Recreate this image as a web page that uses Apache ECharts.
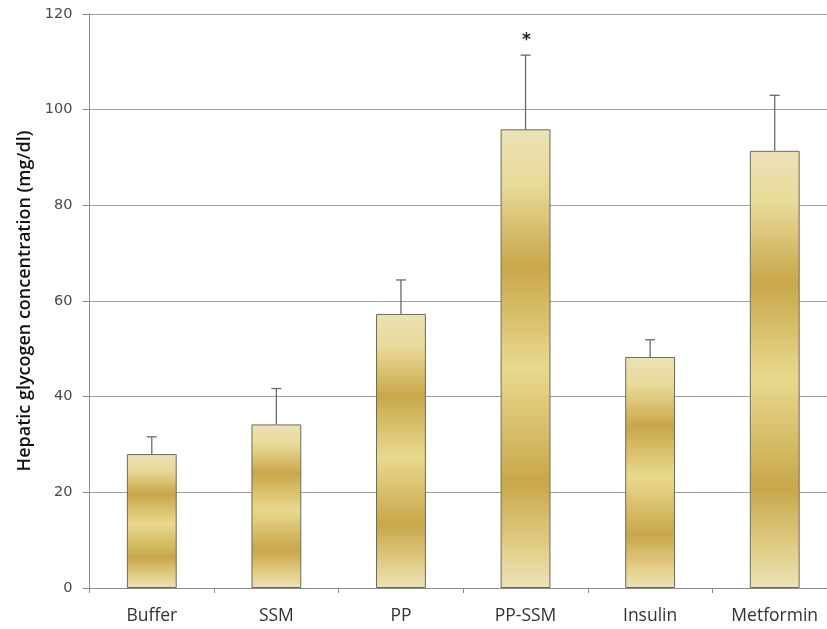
<!DOCTYPE html>
<html>
<head>
<meta charset="utf-8">
<script src="https://cdn.jsdelivr.net/npm/echarts@6/dist/echarts.min.js"></script>
<style>
  html, body { margin: 0; padding: 0; background: #fff; overflow: hidden; }
  /* the plot runs a little past the right edge of the window */
  #chart { width: 837px; height: 629px; }
</style>
</head>
<body>
<div id="chart"></div>
<script>
// Hepatic glycogen by treatment group: means with upward SD whiskers
const categories = ['Buffer', 'SSM', 'PP', 'PP-SSM', 'Insulin', 'Metformin'];
const means = [28.0, 34.2, 57.3, 95.9, 48.3, 91.4];
const upperErr = [3.6, 7.5, 7.1, 15.5, 3.6, 11.6];
const marks = ['', '', '', '*', '', ''];
const yTicks = [0, 20, 40, 60, 80, 100, 120];

const chart = echarts.init(document.getElementById('chart'));

// banded gold fill, stretched over each bar
const goldBands = new echarts.graphic.LinearGradient(0, 0, 0, 1, [
  { offset: 0.00, color: '#EBE2B6' },
  { offset: 0.12, color: '#E8DA98' },
  { offset: 0.30, color: '#C9A74A' },
  { offset: 0.52, color: '#E8D98E' },
  { offset: 0.77, color: '#C9A74A' },
  { offset: 0.92, color: '#E3D08C' },
  { offset: 1.00, color: '#ECE2B8' }
]);

const errData = categories.map((c, i) => [i, means[i], means[i] + upperErr[i], marks[i]]);

chart.setOption({
  animation: false,
  grid: { left: 89.5, right: 0, top: 14, bottom: 41 },
  xAxis: {
    type: 'category',
    data: categories,
    axisLine: { lineStyle: { color: '#8c8c8c', width: 1 } },
    axisTick: { show: true, length: 5, lineStyle: { color: '#8c8c8c' } },
    axisLabel: { color: '#333', fontFamily: 'Open Sans', fontSize: 17.5, margin: 19 },
    splitLine: { show: false }
  },
  yAxis: {
    type: 'value',
    min: yTicks[0],
    max: yTicks[yTicks.length - 1],
    interval: 20,
    name: 'Hepatic glycogen concentration (mg/dl)',
    nameLocation: 'middle',
    nameGap: 54,
    nameTextStyle: { color: '#111', fontFamily: 'Open Sans', fontSize: 18, fontWeight: 600 },
    axisLine: { show: true, lineStyle: { color: '#8c8c8c', width: 1 } },
    axisTick: { show: true, length: 7, lineStyle: { color: '#8c8c8c' } },
    axisLabel: { color: '#4a4a4a', fontFamily: 'DejaVu Sans', fontSize: 14.5, margin: 17 },
    splitLine: { lineStyle: { color: '#a0a0a0', width: 1 } }
  },
  series: [
    {
      type: 'bar',
      data: means,
      barWidth: '40%',
      itemStyle: { color: goldBands, borderColor: '#6f6a58', borderWidth: 1 },
      z: 2
    },
    {
      type: 'custom',
      data: errData,
      z: 3,
      renderItem: function (params, api) {
        const x = api.value(0);
        const base = api.coord([x, api.value(1)]);
        const top = api.coord([x, api.value(2)]);
        const cap = 5;
        const style = { stroke: '#6a6a6a', lineWidth: 1.3 };
        const children = [
          { type: 'line', shape: { x1: base[0], y1: base[1], x2: top[0], y2: top[1] }, style: style },
          { type: 'line', shape: { x1: top[0] - cap, y1: top[1], x2: top[0] + cap, y2: top[1] }, style: style }
        ];
        const m = api.value(3);
        if (m) {
          children.push({
            type: 'text',
            style: {
              text: m, x: top[0] + 1, y: top[1] - 15,
              fill: '#222', font: 'bold 17px "DejaVu Sans"',
              align: 'center', verticalAlign: 'middle'
            }
          });
        }
        return { type: 'group', children: children };
      }
    }
  ]
});
</script>
</body>
</html>
